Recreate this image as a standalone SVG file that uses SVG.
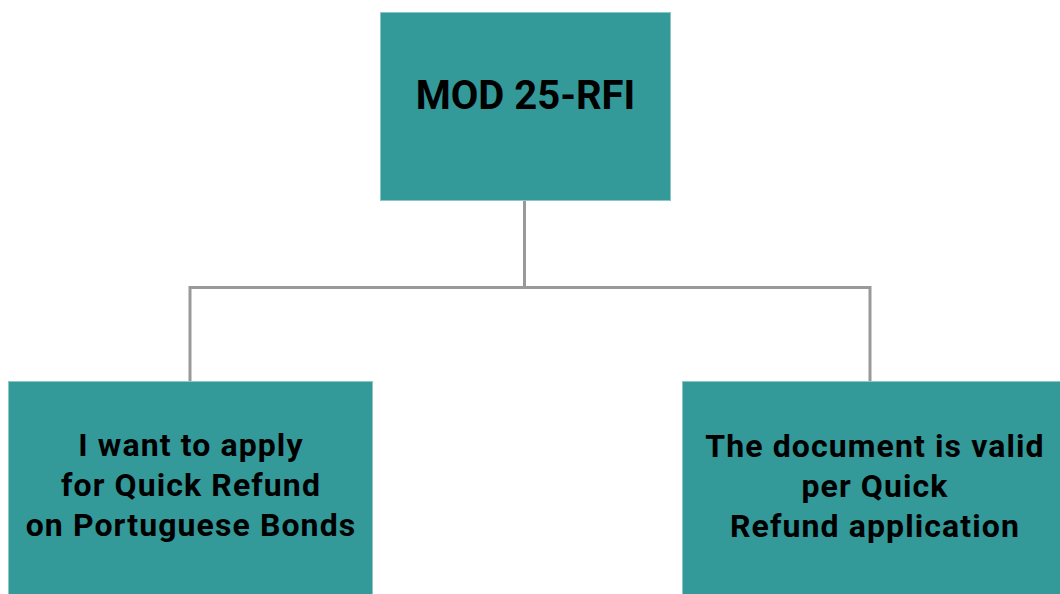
<svg xmlns="http://www.w3.org/2000/svg" width="1060" height="594" viewBox="0 0 1060 594">
<style>
.box{fill:#339999;stroke:#8cc6c6;stroke-width:1}
.lbl{font-family:Roboto,"Liberation Sans",sans-serif;font-weight:700;fill:#000;text-anchor:middle}
.sub{font-size:32px;letter-spacing:1.1px}
.conn{fill:none;stroke:#999;stroke-width:3}
</style>
<rect width="1060" height="594" fill="#fff"/>
<g id="connectors">
<path class="conn" d="M524.5 201 V287.5 H190 V382"/>
<path class="conn" d="M524.5 287.5 H870 V382"/>
</g>
<g id="node-mod25">
<rect class="box" x="380.5" y="12.5" width="290" height="188"/>
<text class="lbl" x="525.5" y="109" font-size="40">MOD 25-RFI</text>
</g>
<g id="node-apply">
<rect class="box" x="8.5" y="381.5" width="364" height="220"/>
<text class="lbl sub"><tspan x="191" y="456">I want to apply</tspan><tspan x="191" y="496">for Quick Refund</tspan><tspan x="191" y="536">on Portuguese Bonds</tspan></text>
</g>
<g id="node-valid">
<rect class="box" x="682.5" y="381.5" width="390" height="220"/>
<text class="lbl sub"><tspan x="875" y="457">The document is valid</tspan><tspan x="875" y="497">per Quick</tspan><tspan x="875" y="537">Refund application</tspan></text>
</g>
</svg>
